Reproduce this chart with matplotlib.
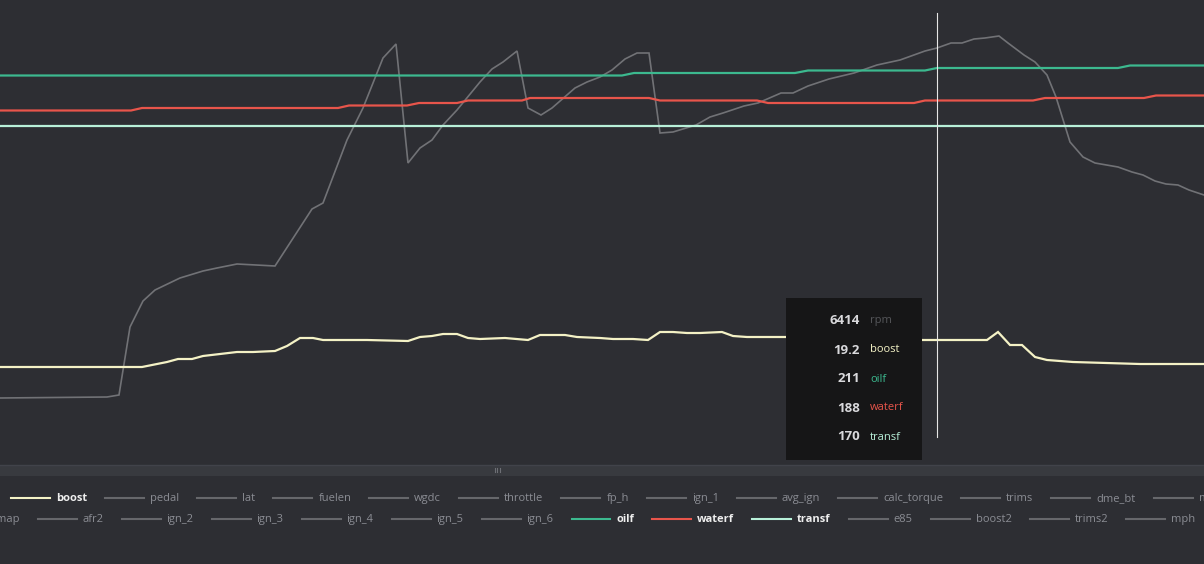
import numpy as np
import matplotlib
matplotlib.use("Agg")
import matplotlib.pyplot as plt
from matplotlib.lines import Line2D
from matplotlib.patches import Rectangle

plt.rcParams['font.family'] = ['Open Sans', 'DejaVu Sans']

# log channels, time in seconds
rpm_t = [0.00, 2.14, 2.38, 2.60, 2.86, 3.10, 3.60, 4.06, 4.34, 4.74, 5.50, 6.24, 6.46, 6.94,
         7.26, 7.66, 7.92, 8.16, 8.40, 8.64, 8.86, 9.14, 9.60, 9.84, 10.06, 10.34, 10.56, 10.82,
         11.04, 11.50, 11.74, 12.00, 12.24, 12.50, 12.74, 12.98, 13.20, 13.46, 13.92, 14.20,
         14.46, 14.88, 15.16, 15.62, 15.86, 16.16, 16.58, 17.08, 17.54, 18.00, 18.50, 18.74,
         19.02, 19.24, 19.48, 19.70, 19.98, 20.16, 20.48, 20.70, 20.94, 21.12, 21.40, 21.66,
         21.90, 22.36, 22.64, 22.86, 23.10, 23.32, 23.56, 23.78, 24.08]
rpm = [1164, 1179, 1209, 2229, 2619, 2784, 2964, 3069, 3114, 3174, 3144, 3999, 4089, 5034,
       5514, 6264, 6474, 4689, 4914, 5034, 5259, 5484, 5904, 6099, 6204, 6369, 5514, 5409,
       5514, 5814, 5904, 5979, 6084, 6249, 6339, 6339, 5139, 5154, 5259, 5379,
       5439, 5544, 5589, 5739, 5739, 5844, 5949, 6039, 6159, 6234, 6369, 6414,
       6489, 6489, 6549, 6564, 6594, 6489, 6309, 6204, 6009, 5679, 5004, 4779,
       4689, 4629, 4554, 4509, 4419, 4374, 4359, 4284, 4209]

boost_t = [0.00, 2.84, 3.14, 3.34, 3.56, 3.84, 4.06, 4.40, 4.74, 5.06, 5.50, 5.74, 6.00, 6.26,
           6.46, 7.34, 8.16, 8.40, 8.64, 8.86, 9.14, 9.36, 9.60, 10.10, 10.56, 10.80, 11.30,
           11.54, 12.00, 12.26, 12.66, 12.96, 13.20, 13.46, 13.74, 14.00, 14.44, 14.66, 14.94,
           15.72, 16.60, 17.60, 18.46, 19.74, 19.96, 20.20, 20.44, 20.70, 20.94, 21.46, 22.80, 24.08]
boost = [0.3, 0.3, 2.4, 3.8, 5.9, 5.9, 8.0, 9.4, 10.8, 10.8, 11.5, 15.0, 20.6, 20.6,
         19.2, 19.2, 18.5, 21.3, 22.0, 23.4, 23.4, 20.6, 19.9, 20.6, 19.2, 22.7, 22.7,
         21.3, 20.6, 19.9, 19.9, 19.2, 24.8, 24.8, 24.1, 24.1, 24.8, 22.0, 21.3,
         21.3, 20.6, 19.9, 19.2, 19.2, 24.8, 15.7, 15.7, 7.3, 5.2, 3.8, 2.4, 2.4]

oilf_t = [0.00, 12.44, 12.68, 15.90, 16.16, 18.50, 18.74, 22.36, 22.60, 24.08]
oilf = [208, 208, 209, 209, 210, 210, 211, 211, 212, 212]

waterf_t = [0.00, 2.62, 2.84, 6.76, 6.98, 8.14, 8.38, 9.14, 9.36, 10.44, 10.60, 12.98, 13.20,
            15.14, 15.36, 18.28, 18.50, 20.66, 20.90, 22.88, 23.12, 24.08]
waterf = [184, 184, 185, 185, 186, 186, 187, 187, 188, 188, 189, 189, 188,
          188, 187, 187, 188, 188, 189, 189, 190, 190]

transf_t = [0.00, 24.08]
transf = [170, 170]

cursor_t = 18.74

legend_row1 = ["boost", "pedal", "lat", "fuelen", "wgdc", "throttle", "fp_h", "ign_1",
               "avg_ign", "calc_torque", "trims", "dme_bt", "meth"]
legend_row2 = ["map", "afr2", "ign_2", "ign_3", "ign_4", "ign_5", "ign_6", "oilf", "waterf",
               "transf", "e85", "boost2", "trims2", "mph"]

BG = "#2d2e33"
GRAY = "#717276"
colors = {"rpm": GRAY, "boost": "#f4f2c6", "oilf": "#3cb98f",
          "waterf": "#e8554b", "transf": "#b8f0d9"}

W, H = 1204, 564
fig = plt.figure(figsize=(W / 100, H / 100), dpi=100, facecolor=BG)
ax = fig.add_axes([0, (H - 463) / H, 1, 463 / H])
ax.set_facecolor(BG)

series = [("rpm", rpm_t, rpm, (189, 7134), 1.2),
          ("boost", boost_t, boost, (-66.9, 257.2), 1.6),
          ("oilf", oilf_t, oilf, (53, 238.2), 1.6),
          ("waterf", waterf_t, waterf, (43, 228.2), 1.6),
          ("transf", transf_t, transf, (35.2, 220.4), 1.6)]

axes = []
for i, (name, t, v, lim, lw) in enumerate(series):
    a = ax if i == 0 else ax.twinx()
    a.plot(t, v, color=colors[name], lw=lw, solid_joinstyle="miter")
    a.set_ylim(*lim)
    a.set_xlim(0, 24.08)
    a.axis("off")
    axes.append(a)

# cursor line
axes[-1].axvline(cursor_t, ymin=(463 - 437) / 463, ymax=(463 - 13) / 463,
                 color="#e6e6e6", lw=0.8)

# tooltip
fig.patches.append(Rectangle((786 / W, 1 - 460 / H), 136 / W, 162 / H,
                             transform=fig.transFigure, facecolor="#161617",
                             edgecolor="none", zorder=5))
tip_vals = [("rpm", "%d" % round(np.interp(cursor_t, rpm_t, rpm)), "#55565a"),
            ("boost", "%.1f" % np.interp(cursor_t, boost_t, boost), colors["boost"]),
            ("oilf", "%d" % round(np.interp(cursor_t, oilf_t, oilf)), colors["oilf"]),
            ("waterf", "%d" % round(np.interp(cursor_t, waterf_t, waterf)), colors["waterf"]),
            ("transf", "%d" % round(np.interp(cursor_t, transf_t, transf)), colors["transf"])]
for k, (name, val, c) in enumerate(tip_vals):
    yy = 1 - (321 + 29 * k) / H
    fig.text(860 / W, yy, val, ha="right", va="center", fontsize=9.5,
             fontweight="bold", color="#d9d9dc", zorder=6)
    fig.text(870 / W, yy, name, ha="left", va="center", fontsize=8,
             color=c, zorder=6)

# splitter bar under the chart
fig.patches.append(Rectangle((0, 1 - 476 / H), 1, 11 / H, transform=fig.transFigure,
                             facecolor="#383a3f", edgecolor="none"))
fig.add_artist(Line2D([0, 1], [1 - 465 / H] * 2, color="#41434a", lw=1))
for gx in (495, 497.5, 500):
    fig.add_artist(Line2D([gx / W] * 2, [1 - 468 / H, 1 - 472 / H], color="#6d6f75", lw=0.8))

# legend rows
active = {"boost", "oilf", "waterf", "transf"}
renderer = fig.canvas.get_renderer()


def legend_row(names, x, y):
    for name in names:
        c = colors.get(name, GRAY) if name in active else "#66676b"
        fig.add_artist(Line2D([x / W, (x + 39) / W], [1 - y / H] * 2, color=c, lw=1.5))
        txt = fig.text((x + 45) / W, 1 - (y + 0.5) / H, name, ha="left", va="center",
                       fontsize=8, color="#eeeeee" if name in active else "#8b8d94",
                       fontweight="bold" if name in active else "normal")
        w = txt.get_window_extent(renderer).width
        x = x + 45 + w + 18


legend_row(legend_row1, 11, 498)
legend_row(legend_row2, -49, 519)

fig.savefig("out.png", dpi=100, facecolor=BG)
